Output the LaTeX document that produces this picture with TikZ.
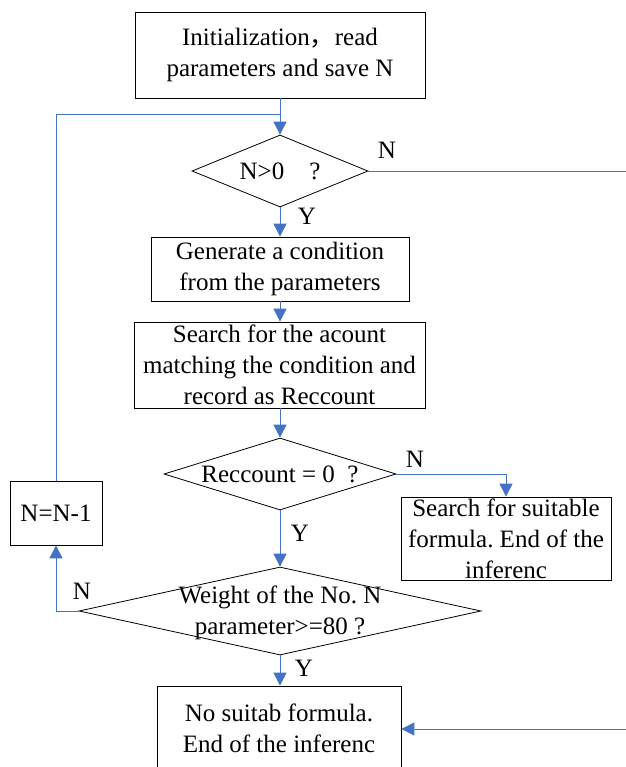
\documentclass[tikz,border=0pt]{standalone}
\usepackage{fontspec}
\setmainfont{Liberation Serif}
\newfontfamily\cjk{Noto Sans CJK SC}
\usetikzlibrary{shapes.geometric,arrows.meta}
\definecolor{flow}{RGB}{68,114,196}
\frenchspacing

\begin{document}
\begin{tikzpicture}[x=1pt,y=-1pt,
  every node/.style={font=\fontsize{25}{31}\selectfont},
  box/.style={draw, line width=0.8pt, align=center, inner sep=0pt},
  decision/.style={draw, diamond, line width=0.8pt, inner sep=0pt},
  link/.style={draw=flow, line width=0.9pt},
  arrow/.style={link, -{Triangle[length=13pt,width=13pt]}},
  tag/.style={inner sep=0pt}]
  \useasboundingbox (0,0) rectangle (625,767);

  % process steps
  \node[box, minimum width=290pt, minimum height=86pt] (init) at (280,55)
    {Initialization{\cjk ，}read\\parameters and save N};
  \node[decision, minimum width=176pt, minimum height=72pt,
        label={center:N>0\quad ?}] (pos) at (280,171) {};
  \node[box, minimum width=258pt, minimum height=64pt] (gen) at (280,269)
    {Generate a condition\\from the parameters};
  \node[box, minimum width=291pt, minimum height=86pt] (search) at (279.5,365)
    {Search for the acount\\matching the condition and\\record as Reccount};
  \node[decision, minimum width=232pt, minimum height=72pt,
        label={center:Reccount = 0\enspace ?}] (zero) at (280,474) {};
  \node[box, minimum width=210pt, minimum height=83pt] (found) at (506,538.5)
    {Search for suitable\\formula. End of the\\inferenc};
  \node[box, minimum width=92pt, minimum height=64pt] (dec) at (56,513) {N=N-1};
  \node[decision, minimum width=402pt, minimum height=88pt,
        label={[align=center,yshift=-2pt]center:Weight of the No. N\\parameter>=80 ?}] (weight) at (280,611) {};
  \node[box, minimum width=244pt, minimum height=84pt] (none) at (279,728)
    {No suitab formula.\\End of the inferenc};

  % junction points of the loops
  \coordinate (merge) at (280,114);
  \coordinate (edgeTop) at (627,171);
  \coordinate (edgeBot) at (627,729);

  % connectors
  \draw[arrow] (init.south -| pos.north) -- (pos.north);
  \draw[arrow] (pos.south) -- (gen.north);
  \draw[arrow] (gen.south) -- (search.north -| gen.south);
  \draw[arrow] (search.south -| zero.north) -- (zero.north);
  \draw[arrow] (zero.east) -| (found.north);
  \draw[arrow] (zero.south) -- (weight.north);
  \draw[arrow] (weight.west) -| (dec.south);
  \draw[link] (dec.north) |- (merge);
  \draw[arrow] (weight.south) -- (none.north -| weight.south);
  \draw[link] (pos.east) -- (edgeTop) -- (edgeBot);
  \draw[arrow] (edgeBot) -- (none.east |- edgeBot);

  % branch labels
  \node[tag] (n1) at (387,150) {N};
  \node[tag] (y1) at (307,216) {Y};
  \node[tag] (n2) at (415,459) {N};
  \node[tag] (y2) at (300,533) {Y};
  \node[tag] (n3) at (82,591) {N};
  \node[tag] (y3) at (304,668) {Y};
\end{tikzpicture}
\end{document}
